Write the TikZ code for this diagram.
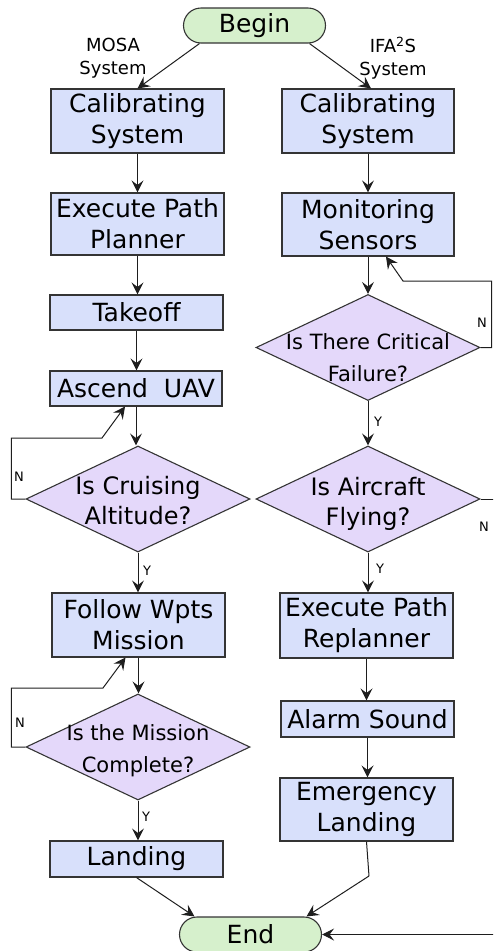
\documentclass[tikz,border=0pt]{standalone}
\usepackage{fontspec}
\setmainfont{DejaVu Sans}
\usetikzlibrary{arrows.meta,shapes.geometric}

\definecolor{procfill}{RGB}{216,224,251}
\definecolor{askfill}{RGB}{228,216,250}
\definecolor{termfill}{RGB}{214,240,204}
\definecolor{edgecol}{RGB}{52,52,52}
\definecolor{wirecol}{RGB}{30,30,30}

\newcommand\fntbox{\fontsize{25}{31}\selectfont}
\newcommand\fntask{\fontsize{24}{30}\selectfont}
\newcommand\fntasksmall{\fontsize{21}{32}\selectfont}
\newcommand\fntsys{\fontsize{18}{23}\selectfont}
\newcommand\fntyn{\fontsize{13}{15}\selectfont}

\begin{document}
\begin{tikzpicture}[x=1pt,y=-1pt,
  proc/.style={draw=edgecol, fill=procfill, line width=1.1pt, inner sep=0pt,
    align=center, minimum width=173pt, font=\fntbox},
  term/.style={draw=edgecol, fill=termfill, line width=1.1pt, inner sep=0pt,
    rounded corners=17.5pt, minimum width=142pt, minimum height=35pt, font=\fntbox},
  ask/.style={diamond, draw=edgecol, fill=askfill, line width=1.1pt, inner sep=0pt,
    aspect=2.1, minimum width=224pt, minimum height=106pt},
  % question text of a decision, set on the diamond's centre
  asktext/.style={align=center, inner sep=0pt, font=\fntask},
  sysnote/.style={align=center, inner sep=0pt, font=\fntsys},
  yn/.style={inner sep=0pt, font=\fntyn},
  wire/.style={draw=wirecol, line width=1pt,
    -{Stealth[length=12pt,width=12pt,inset=4.5pt]}},
  plain/.style={draw=wirecol, line width=1pt}
]
\useasboundingbox (0,0) rectangle (493,951);
\clip (0,0) rectangle (493,951);

% terminals
\node[term] (begin) at (254.5,25.5) {Begin};
\node[term] (end) at (250.5,934.5) {End};

% branch captions
\node[sysnote] (mosa) at (113,58) {MOSA\\System};
\node[sysnote] (ifas) at (393,58) {IFA\textsuperscript{2}S\\System};

% MOSA column
\node[proc, minimum height=64pt] (calibL) at (137.5,121) {Calibrating\\System};
\node[proc, minimum height=62pt] (pathL) at (137.5,224) {Execute Path\\Planner};
\node[proc, minimum height=35pt] (takeoff) at (136.5,312.5) {Takeoff};
\node[proc, minimum height=35pt, minimum width=172pt] (ascend) at (136,388.5) {Ascend\ \ UAV};
\node[ask, label={[asktext, name=cruiseText, yshift=-2pt]center:Is Cruising\\Altitude?}]
  (cruise) at (138,499) {};
\node[proc, minimum height=64pt] (follow) at (138.5,625) {Follow Wpts\\Mission};
\node[ask, label={[asktext, font=\fntasksmall, name=missionText, yshift=-3.5pt]center:Is the Mission\\Complete?}]
  (mission) at (138,747) {};
\node[proc, minimum height=36pt] (landing) at (136.5,859) {Landing};

% IFA2S column
\node[proc, minimum height=64pt, minimum width=172pt] (calibR) at (368,121) {Calibrating\\System};
\node[proc, minimum height=63pt, minimum width=172pt] (monR) at (368,224.5) {Monitoring\\Sensors};
\node[ask, label={[asktext, font=\fntasksmall, name=criticalText, yshift=-10.5pt]center:Is There Critical\\Failure?}]
  (critical) at (368,347.5) {};
\node[ask, label={[asktext, name=aircraftText, yshift=-4.5pt]center:Is Aircraft\\Flying?}]
  (aircraft) at (368,499) {};
\node[proc, minimum height=65pt] (replan) at (366.5,625.5) {Execute Path\\Replanner};
\node[proc, minimum height=36pt] (alarm) at (367.5,719) {Alarm Sound};
\node[proc, minimum height=63pt] (emerg) at (366.5,809.5) {Emergency\\Landing};

% bend points of the loops
\coordinate (cruiseKnee) at (102,438);
\coordinate (missionKnee) at (103,688);
\coordinate (criticalKnee) at (403,281);
\coordinate (flyRight) at (498,499);
\coordinate (emergKnee) at (369,876);

% start
\draw[wire] ([xshift=-55pt]begin.south) -- (calibL.north);
\draw[wire] ([xshift=55pt]begin.south) -- ([xshift=3pt]calibR.north);

% MOSA flow
\draw[wire] (calibL.south) -- (calibL.south |- pathL.north);
\draw[wire] (pathL.south) -- (pathL.south |- takeoff.north);
\draw[wire] (takeoff.south) -- (takeoff.south |- ascend.north);
\draw[wire] (ascend.south) -- (ascend.south |- cruise.north);
\draw[wire] (cruise.south) -- (cruise.south |- follow.north);
\draw[wire] (cruise.west) -- ++(-14,0) |- (cruiseKnee) -- ([xshift=-11pt]ascend.south);
\draw[wire] (follow.south) -- (follow.south |- mission.north);
\draw[wire] (mission.west) -- ++(-14,0) |- (missionKnee) -- ([xshift=-13pt]follow.south);
\draw[wire] (mission.south) -- (mission.south |- landing.north);
\draw[wire] (landing.south) -- ([xshift=-56pt]end.north);

% IFA2S flow
\draw[wire] (calibR.south) -- (calibR.south |- monR.north);
\draw[wire] (monR.south) -- (monR.south |- critical.north);
\draw[wire] (critical.east) -- ++(11,0) |- (criticalKnee) -- ([xshift=18pt]monR.south);
\draw[wire] (critical.south) -- (critical.south |- aircraft.north);
\draw[wire] (aircraft.south) -- (aircraft.south |- replan.north);
\draw[wire] (aircraft.east) -- (flyRight) |- (end.east);
\draw[wire] (replan.south) -- (replan.south |- alarm.north);
\draw[wire] (alarm.south) -- (alarm.south |- emerg.north);
\draw[plain] (emerg.south) -- (emergKnee);
\draw[wire] (emergKnee) -- ([xshift=56pt]end.north);

% branch answers
\node[yn] (nCruise) at (19,477) {N};
\node[yn] (yCruise) at (147,571) {Y};
\node[yn] (nMission) at (20,723) {N};
\node[yn] (yMission) at (146,817) {Y};
\node[yn] (nCritical) at (482,323) {N};
\node[yn] (yCritical) at (378,422) {Y};
\node[yn] (nAircraft) at (484,527) {N};
\node[yn] (yAircraft) at (380,569) {Y};
\end{tikzpicture}
\end{document}
